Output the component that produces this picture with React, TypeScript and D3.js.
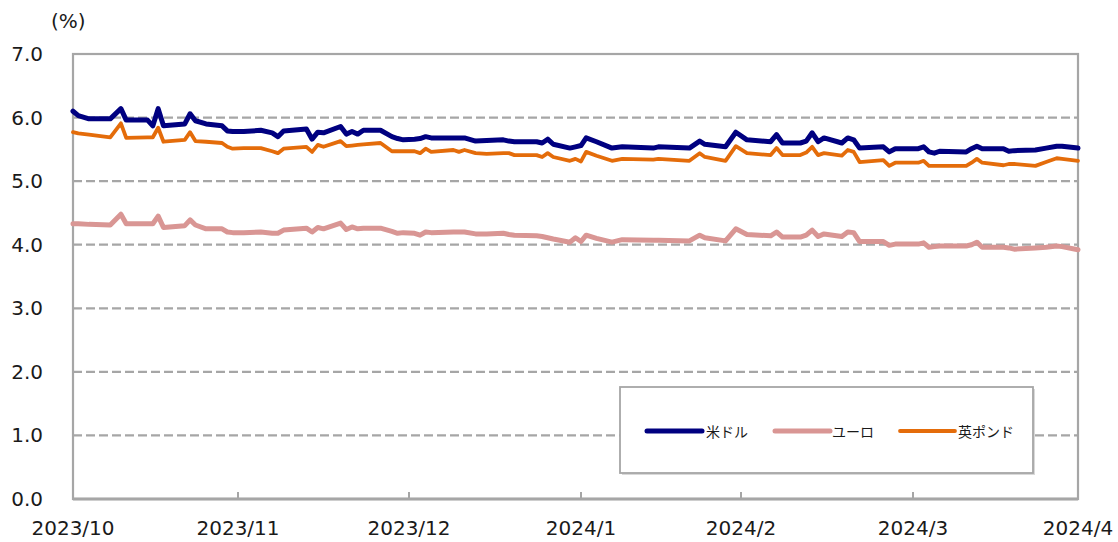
import React from 'react';
import * as d3 from 'd3';

// daily rate readings (%), Oct 2023 - Apr 2024
const dates = [
  '2023-10-01', '2023-10-02', '2023-10-04', '2023-10-08', '2023-10-10', '2023-10-11', '2023-10-15', '2023-10-16',
  '2023-10-17', '2023-10-18', '2023-10-22', '2023-10-23', '2023-10-24', '2023-10-26', '2023-10-29', '2023-10-30',
  '2023-10-31', '2023-11-02', '2023-11-05', '2023-11-07', '2023-11-08', '2023-11-09', '2023-11-13', '2023-11-14',
  '2023-11-15', '2023-11-16', '2023-11-19', '2023-11-20', '2023-11-21', '2023-11-22', '2023-11-23', '2023-11-26',
  '2023-11-28', '2023-11-29', '2023-11-30', '2023-12-02', '2023-12-03', '2023-12-04', '2023-12-05',
  '2023-12-09', '2023-12-10', '2023-12-11', '2023-12-13', '2023-12-15', '2023-12-18', '2023-12-19', '2023-12-20',
  '2023-12-24', '2023-12-25', '2023-12-26', '2023-12-27', '2023-12-30', '2023-12-31', '2024-01-01', '2024-01-02',
  '2024-01-04', '2024-01-07', '2024-01-09', '2024-01-15', '2024-01-16', '2024-01-22', '2024-01-24', '2024-01-25',
  '2024-01-29', '2024-01-31', '2024-02-02', '2024-02-06', '2024-02-07', '2024-02-08', '2024-02-11', '2024-02-12',
  '2024-02-13', '2024-02-14', '2024-02-15', '2024-02-18', '2024-02-19', '2024-02-20', '2024-02-21', '2024-02-25',
  '2024-02-26', '2024-02-27', '2024-03-02', '2024-03-03', '2024-03-04', '2024-03-05', '2024-03-06', '2024-03-11',
  '2024-03-12', '2024-03-13', '2024-03-14', '2024-03-18', '2024-03-19', '2024-03-20', '2024-03-24', '2024-03-26',
  '2024-03-28', '2024-03-29', '2024-04-01',
];

const usd = [
  6.10, 6.03, 5.98, 5.98, 6.14, 5.96, 5.96, 5.87, 6.14, 5.87, 5.90, 6.06, 5.95, 5.90, 5.87, 5.79,
  5.78, 5.78, 5.80, 5.76, 5.70, 5.79, 5.82, 5.66, 5.77, 5.76, 5.86, 5.74, 5.78, 5.74, 5.80, 5.80,
  5.70, 5.67, 5.65, 5.66, 5.67, 5.70, 5.68, 5.68, 5.68, 5.68, 5.63, 5.64, 5.65, 5.63, 5.62,
  5.62, 5.60, 5.66, 5.58, 5.52, 5.54, 5.56, 5.68, 5.62, 5.52, 5.54, 5.52, 5.54, 5.52, 5.63, 5.58,
  5.54, 5.77, 5.65, 5.62, 5.73, 5.60, 5.60, 5.63, 5.76, 5.62, 5.68, 5.60, 5.68, 5.65, 5.52, 5.54,
  5.46, 5.51, 5.51, 5.54, 5.46, 5.44, 5.47, 5.46, 5.51, 5.55, 5.51, 5.51, 5.47, 5.48, 5.49, 5.52,
  5.55, 5.55, 5.52,
];

const eur = [
  4.33, 4.33, 4.32, 4.31, 4.48, 4.33, 4.33, 4.33, 4.45, 4.27, 4.30, 4.39, 4.31, 4.25, 4.25, 4.20,
  4.19, 4.19, 4.20, 4.18, 4.18, 4.23, 4.26, 4.20, 4.27, 4.25, 4.34, 4.24, 4.28, 4.25, 4.26, 4.26,
  4.21, 4.18, 4.19, 4.18, 4.15, 4.20, 4.19, 4.20, 4.20, 4.20, 4.17, 4.17, 4.18, 4.16, 4.15,
  4.14, 4.13, 4.11, 4.09, 4.04, 4.11, 4.05, 4.15, 4.10, 4.04, 4.08, 4.07, 4.07, 4.06, 4.15, 4.11,
  4.06, 4.25, 4.16, 4.14, 4.20, 4.12, 4.12, 4.15, 4.23, 4.13, 4.17, 4.13, 4.20, 4.19, 4.05, 4.05,
  3.99, 4.01, 4.01, 4.03, 3.96, 3.97, 3.98, 3.98, 4.00, 4.04, 3.96, 3.96, 3.95, 3.93, 3.95, 3.96,
  3.98, 3.97, 3.92,
];

const gbp = [
  5.77, 5.75, 5.73, 5.69, 5.91, 5.68, 5.69, 5.69, 5.84, 5.62, 5.65, 5.77, 5.63, 5.62, 5.60, 5.54,
  5.51, 5.52, 5.52, 5.47, 5.44, 5.51, 5.54, 5.46, 5.57, 5.54, 5.63, 5.55, 5.56, 5.57, 5.58, 5.60,
  5.47, 5.47, 5.47, 5.47, 5.44, 5.51, 5.46, 5.49, 5.46, 5.49, 5.44, 5.43, 5.44, 5.44, 5.41,
  5.41, 5.38, 5.44, 5.38, 5.32, 5.35, 5.31, 5.46, 5.40, 5.32, 5.35, 5.34, 5.35, 5.32, 5.44, 5.38,
  5.32, 5.55, 5.44, 5.41, 5.52, 5.41, 5.41, 5.45, 5.54, 5.41, 5.44, 5.40, 5.49, 5.46, 5.30, 5.33,
  5.24, 5.29, 5.29, 5.32, 5.24, 5.24, 5.24, 5.24, 5.29, 5.35, 5.29, 5.25, 5.27, 5.27, 5.24, 5.30,
  5.36, 5.35, 5.32,
];

const seriesNames = ['米ドル', 'ユーロ', '英ポンド'];
const seriesColors = ['#000080', '#d99694', '#e46c0a'];
const yTicks = [0, 1, 2, 3, 4, 5, 6, 7];
const monthStarts = ['2023-10-01', '2023-11-01', '2023-12-01', '2024-01-01', '2024-02-01', '2024-03-01', '2024-04-01'];

const W = 1118;
const H = 542;
const left = 73;
const right = 1078;
const top = 54;
const bottom = 499;
// pixel position of each month boundary on the category-like date axis
const monthPx = [left, 238, 409, 581, 741, 913, right];
const gray = '#a6a6a6';
const numFont = '"DejaVu Sans", Verdana, sans-serif';
const jpFont = '"Noto Sans CJK JP", sans-serif';

const App = () => {
  const parse = d3.timeParse('%Y-%m-%d');
  const xDates = dates.map((d) => parse(d) as Date);
  const monthTicks = monthStarts.map((d) => parse(d) as Date);

  const x = d3.scaleTime().domain(monthTicks).range(monthPx);
  const y = d3.scaleLinear().domain([0, 7]).range([bottom, top]);
  const fmt = d3.timeFormat('%Y/%-m');

  const line = d3
    .line<number>()
    .x((_, i) => x(xDates[i]))
    .y((v) => y(v));

  const all = [usd, eur, gbp];
  const widths = [5, 5, 3.8];
  const drawOrder = [1, 2, 0];

  // legend layout
  const lg = { x: 620, y: 387, w: 413, h: 86 };
  const legendItems = [
    { x0: 647, tx: 706 },
    { x0: 775, tx: 832 },
    { x0: 900, tx: 958 },
  ];

  return (
    <svg
      width={W}
      height={H}
      style={{ position: 'absolute', left: 0, top: 0, background: '#fff' }}
    >
      <rect width={W} height={H} fill="#fff" />

      {/* gridlines */}
      {yTicks
        .filter((t) => t > 0 && t < 7)
        .map((t) => (
          <line
            key={t}
            x1={left}
            x2={right}
            y1={y(t)}
            y2={y(t)}
            stroke={gray}
            strokeWidth={2.2}
            strokeDasharray="9,4"
          />
        ))}

      {/* frame */}
      <rect x={left} y={top} width={right - left} height={bottom - top} fill="none" stroke={gray} strokeWidth={2.2} />
      <line x1={left} x2={right} y1={bottom} y2={bottom} stroke={gray} strokeWidth={3} />
      {monthTicks.map((d, i) => (
        <line key={i} x1={x(d)} x2={x(d)} y1={bottom} y2={bottom - 7} stroke={gray} strokeWidth={2} />
      ))}

      {/* y labels */}
      {yTicks.map((t) => (
        <text
          key={t}
          x={43}
          y={y(t)}
          textAnchor="end"
          dominantBaseline="central"
          fontFamily={numFont}
          fontSize={20}
          fill="#1a1a1a"
        >
          {t.toFixed(1)}
        </text>
      ))}
      <text x={51} y={28} fontFamily={numFont} fontSize={20} fill="#1a1a1a">
        (%)
      </text>

      {/* x labels */}
      {monthTicks.map((d, i) => (
        <text
          key={i}
          x={x(d)}
          y={528}
          textAnchor="middle"
          dominantBaseline="central"
          fontFamily={numFont}
          fontSize={20}
          fill="#1a1a1a"
        >
          {fmt(d)}
        </text>
      ))}

      {/* series */}
      {drawOrder.map((k) => (
        <path
          key={k}
          d={line(all[k]) || ''}
          fill="none"
          stroke={seriesColors[k]}
          strokeWidth={widths[k]}
          strokeLinejoin="round"
          strokeLinecap="round"
        />
      ))}

      {/* legend */}
      <rect x={lg.x + 2} y={lg.y + 2} width={lg.w} height={lg.h} fill="#d9d9d9" />
      <rect x={lg.x} y={lg.y} width={lg.w} height={lg.h} fill="#fff" stroke={gray} strokeWidth={1.8} />
      {legendItems.map((it, k) => (
        <g key={k}>
          <line
            x1={it.x0}
            x2={it.x0 + 55}
            y1={431}
            y2={431}
            stroke={seriesColors[k]}
            strokeWidth={widths[k]}
            strokeLinecap="round"
          />
          <text x={it.tx} y={431} dominantBaseline="central" fontFamily={jpFont} fontSize={14} fill="#1a1a1a">
            {seriesNames[k]}
          </text>
        </g>
      ))}
    </svg>
  );
};

export default App;
